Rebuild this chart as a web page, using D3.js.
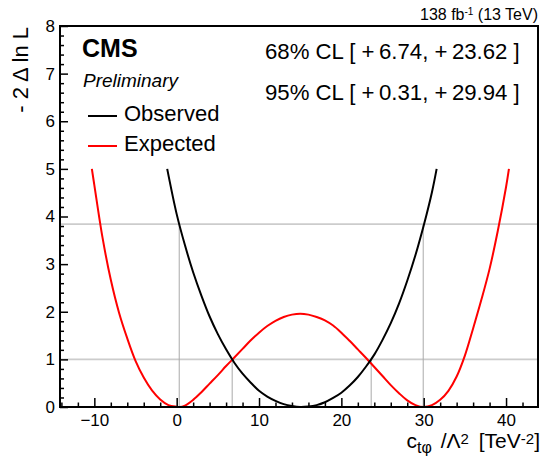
<!DOCTYPE html>
<html>
<head>
<meta charset="utf-8">
<script src="https://cdn.jsdelivr.net/npm/d3@7"></script>
<style>
  html, body { margin: 0; padding: 0; background: #fff; }
  svg { display: block; font-family: "Liberation Sans", Arial, Helvetica, sans-serif; }
</style>
</head>
<body>
<svg id="chart" width="543" height="461"></svg>
<script>
// Likelihood scan in c_tphi / Lambda^2: observed and expected -2 Delta lnL
const obsX = [-1.15, 0, 1, 2, 3, 4, 5, 6, 7, 8, 9, 10, 11, 12, 13, 14, 15, 16, 17, 18, 19, 20,
              21, 22, 23, 24, 25, 26, 27, 28, 29, 30, 31, 31.57];
const obsY = [5.00, 4.05, 3.40, 2.83, 2.34, 1.90, 1.53, 1.21, 0.93, 0.70, 0.51, 0.34, 0.22, 0.13,
              0.06, 0.02, 0.00, 0.01, 0.04, 0.10, 0.19, 0.30, 0.45, 0.63, 0.85, 1.10, 1.41, 1.76,
              2.17, 2.65, 3.19, 3.81, 4.51, 5.00];

const expX = [-10.3, -10, -9, -8, -7, -6, -5, -4, -3, -2, -1, 0, 0.3, 1, 2, 3, 4, 5, 6, 7, 8, 9,
              10, 11, 12, 13, 14, 15, 16, 17, 18, 19, 20, 21, 22, 23, 24, 25, 26, 27, 28, 29, 30,
              31, 32, 33, 34, 35, 36, 37, 38, 39, 40, 40.35];
const expY = [5.00, 4.66, 3.55, 2.67, 1.98, 1.44, 0.97, 0.62, 0.35, 0.16, 0.04, 0.005, 0.00, 0.03,
              0.15, 0.31, 0.49, 0.67, 0.86, 1.04, 1.22, 1.40, 1.56, 1.70, 1.81, 1.89, 1.94, 1.96,
              1.94, 1.89, 1.82, 1.71, 1.56, 1.39, 1.21, 1.03, 0.84, 0.65, 0.46, 0.29, 0.14, 0.04,
              0.00, 0.04, 0.15, 0.34, 0.64, 1.08, 1.65, 2.25, 2.90, 3.70, 4.62, 5.00];

// confidence intervals and their -2 Delta lnL thresholds
const cl68 = [6.74, 23.62];
const cl95 = [0.31, 29.94];
const thresholds = [1, 3.84];

const xTicks = [-10, 0, 10, 20, 30, 40];
const xTickLabels = ["\u221210", "0", "10", "20", "30", "40"];
const yTicks = [0, 1, 2, 3, 4, 5, 6, 7, 8];
const yTickLabels = ["0", "1", "2", "3", "4", "5", "6", "7", "8"];

const seriesNames = ["Observed", "Expected"];
const seriesColors = ["#000000", "#ff0000"];

const frame = { left: 60, right: 538, top: 26, bottom: 407 };

const svg = d3.select("#chart");

const x = d3.scaleLinear().domain([-14.17, 43.88]).range([frame.left, frame.right]);
const y = d3.scaleLinear().domain([0, 8]).range([frame.bottom, frame.top]);

svg.append("defs").append("clipPath").attr("id", "plotclip")
  .append("rect")
  .attr("x", frame.left).attr("y", frame.top)
  .attr("width", frame.right - frame.left).attr("height", frame.bottom - frame.top);

// reference lines at the interval thresholds
const grid = svg.append("g").attr("clip-path", "url(#plotclip)");
thresholds.forEach(t => {
  grid.append("line")
    .attr("x1", frame.left).attr("x2", frame.right)
    .attr("y1", y(t)).attr("y2", y(t))
    .attr("stroke", "#cccccc").attr("stroke-width", 1.6);
});
[[cl68, thresholds[0]], [cl95, thresholds[1]]].forEach(([pair, t]) => {
  pair.forEach(v => {
    grid.append("line")
      .attr("x1", x(v)).attr("x2", x(v))
      .attr("y1", y(0)).attr("y2", y(t))
      .attr("stroke", "#aaaaaa").attr("stroke-width", 1);
  });
});

// curves
const line = d3.line()
  .x(d => x(d[0]))
  .y(d => y(d[1]))
  .curve(d3.curveCatmullRom.alpha(0.5));

const curves = svg.append("g").attr("clip-path", "url(#plotclip)");
curves.append("path")
  .datum(expX.map((v, i) => [v, expY[i]]))
  .attr("d", line)
  .attr("fill", "none").attr("stroke", seriesColors[1]).attr("stroke-width", 2);
curves.append("path")
  .datum(obsX.map((v, i) => [v, obsY[i]]))
  .attr("d", line)
  .attr("fill", "none").attr("stroke", seriesColors[0]).attr("stroke-width", 2);

// axes with inward ticks
const xMinor = d3.range(-14, 44, 2).filter(v => v % 10 !== 0);
const yMinor = d3.range(0, 8.01, 0.2).map(v => +v.toFixed(1)).filter(v => Math.abs(v - Math.round(v)) > 1e-6);

const xAxis = svg.append("g").attr("transform", `translate(0,${frame.bottom})`)
  .call(d3.axisBottom(x).tickValues(xTicks)
    .tickFormat((d, i) => xTickLabels[i])
    .tickSizeInner(-9).tickSizeOuter(0).tickPadding(7));
svg.append("g").attr("transform", `translate(0,${frame.bottom})`)
  .call(d3.axisBottom(x).tickValues(xMinor).tickFormat("")
    .tickSizeInner(-4.5).tickSizeOuter(0))
  .call(g => g.select(".domain").remove());

const yAxis = svg.append("g").attr("transform", `translate(${frame.left},0)`)
  .call(d3.axisLeft(y).tickValues(yTicks)
    .tickFormat((d, i) => yTickLabels[i])
    .tickSizeInner(-8).tickSizeOuter(0).tickPadding(5));
svg.append("g").attr("transform", `translate(${frame.left},0)`)
  .call(d3.axisLeft(y).tickValues(yMinor).tickFormat("")
    .tickSizeInner(-4).tickSizeOuter(0))
  .call(g => g.select(".domain").remove());

[xAxis, yAxis].forEach(g => {
  g.selectAll(".domain").remove();
  g.selectAll("text").attr("font-size", 17).attr("fill", "#000")
    .attr("font-family", "'Liberation Sans', Arial, Helvetica, sans-serif");
});
svg.selectAll(".tick line").attr("stroke", "#000").attr("stroke-width", 1.5);

// frame
svg.append("rect")
  .attr("x", frame.left).attr("y", frame.top)
  .attr("width", frame.right - frame.left).attr("height", frame.bottom - frame.top)
  .attr("fill", "none").attr("stroke", "#000").attr("stroke-width", 2);

// axis titles
const xt = svg.append("text")
  .attr("x", 540).attr("y", 448).attr("text-anchor", "end")
  .attr("font-size", 21);
xt.append("tspan").text("c");
xt.append("tspan").attr("baseline-shift", "-30%").attr("font-size", 16).text("t\u03c6");
xt.append("tspan").attr("dx", 3).text(" /\u039b");
xt.append("tspan").attr("baseline-shift", "30%").attr("font-size", 15).text("2");
xt.append("tspan").attr("dx", 4).text(" [TeV");
xt.append("tspan").attr("baseline-shift", "30%").attr("font-size", 15).text("-2");
xt.append("tspan").text("]");

svg.append("text")
  .attr("transform", "translate(28,27) rotate(-90)")
  .attr("text-anchor", "end").attr("font-size", 22)
  .text("- 2 \u0394 ln L");

// luminosity label
const lumi = svg.append("text")
  .attr("x", 538).attr("y", 20).attr("text-anchor", "end").attr("font-size", 16);
lumi.append("tspan").text("138 fb");
lumi.append("tspan").attr("baseline-shift", "super").attr("font-size", 10).text("-1");
lumi.append("tspan").text(" (13 TeV)");

// CMS label
svg.append("text").attr("x", 82).attr("y", 57)
  .attr("font-size", 25).attr("font-weight", "bold").text("CMS");
svg.append("text").attr("x", 83).attr("y", 87)
  .attr("font-size", 19).attr("font-style", "italic").text("Preliminary");

// interval summary
const fmt = v => "+\u2009" + v.toFixed(2);
svg.append("text").attr("x", 265).attr("y", 59).attr("font-size", 22.2)
  .text(`68% CL [ ${fmt(cl68[0])}, ${fmt(cl68[1])} ]`);
svg.append("text").attr("x", 265).attr("y", 100).attr("font-size", 22.2)
  .text(`95% CL [ ${fmt(cl95[0])}, ${fmt(cl95[1])} ]`);

// legend
const legend = svg.append("g");
seriesNames.forEach((name, i) => {
  const ly = 116 + i * 30;
  legend.append("line")
    .attr("x1", 88).attr("x2", 117).attr("y1", ly).attr("y2", ly)
    .attr("stroke", seriesColors[i]).attr("stroke-width", 2);
  legend.append("text")
    .attr("x", 124).attr("y", ly + 5).attr("font-size", 22)
    .text(name);
});
</script>
</body>
</html>
